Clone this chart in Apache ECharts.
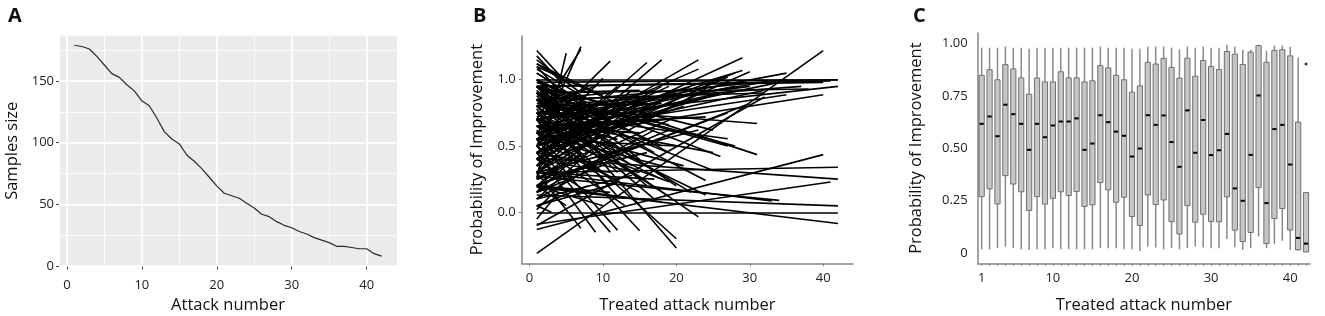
<!DOCTYPE html>
<html>
<head>
<meta charset="utf-8">
<title>Attack number panels</title>
<script src="https://cdn.jsdelivr.net/npm/echarts@6.0.0/dist/echarts.min.js"></script>
<style>
  html, body { margin: 0; padding: 0; background: #fff; }
  #chart { width: 1325px; height: 316px; }
</style>
</head>
<body>
<div id="chart"></div>
<script>
// ---- panel A: samples left at each attack ----
const attackNumbers = [1, 2, 3, 4, 5, 6, 7, 8, 9, 10, 11, 12, 13, 14, 15, 16, 17, 18, 19, 20, 21,
  22, 23, 24, 25, 26, 27, 28, 29, 30, 31, 32, 33, 34, 35, 36, 37, 38, 39, 40, 41, 42]
const sampleSize = [179, 178, 176, 170, 163, 156, 153, 147, 142, 134, 130, 120, 109, 103, 99, 90, 85,
  79, 72, 65, 59, 57, 55, 51, 47, 42, 40, 36, 33, 31, 28, 26, 23, 21, 19, 16, 16, 15, 14, 14, 10, 8]

// ---- panel B: one straight line per patient, attack 1 -> last treated attack ----
const lineStartY = [
  0.62, 0.35,
  1.05, 0.78, 0.15, 0.50, 0.92, 0.05,
  1.18, 0.30, 0.70, -0.05, 0.88, 0.45, 1.10,
  1.22, 0.26, 0.60, 0.95, 0.20, 0.80, 0.40,
  1.12, 0.55, 0.02,
  0.50, 0.70, 0.30, 1.15, 0.85, 0.15,
  0.95, 0.40, 0.72, 0.05, 1.08,
  0.45, 0.90, 0.25, 0.65, 1.00, 0.10, 0.80, 0.35,
  0.50, 0.70, 1.12, 0.20,
  0.60, 0.50, 0.95, 0.30, 0.75, 0.10, 1.05, 0.40, 0.85, 0.20,
  0.55, 0.90, 0.30, 0.70, 1.10, 0.15, 0.45, 0.80, 0.60, 0.05, 1.00,
  0.60, 0.35, 0.95, 0.20, 0.75, 0.50,
  0.85, 0.40, 0.10, 0.65,
  0.70, 0.80, 0.30, 1.00, 0.55, 0.20, 0.90, 0.45, 0.65,
  0.40, 0.90, 0.60, 0.25, 0.75,
  0.50, 0.95, 0.30, 0.70, 0.15, 0.85,
  0.35, 0.60, 0.80, 0.20, 0.95, 0.45, 0.70,
  0.85, 1.00, 0.60, 0.30, 0.75, 0.50, 0.20,
  0.95, 0.75, 0.40, 0.55, 0.25, 0.90,
  0.65, 0.45,
  0.55, 0.85,
  0.45, 0.55, 0.80, 0.30,
  0.90, 0.65, 0.25, 0.75,
  0.85, 0.50, 0.95, 0.35, 0.70,
  0.60, 0.95,
  0.75, 0.40, 0.90, 0.20,
  0.90, 0.50, 0.65,
  0.45, 0.60,
  0.35, 0.75, 0.20,
  0.80, 0.98,
  -0.10, 0.55, 0.85,
  0.30, 0.70,
  0.27, 0.60,
  0.70, 0.60, 0.82,
  0.80,
  0.90,
  -0.31, 0.55, -0.13, 0.95,
  0.95, -0.09,
  1.00, 0.98, 0.30, 0.41, 0.13, 0.00, 0.19, 0.70
]
const lineEndX = [
  2, 2,
  3, 3, 3, 3, 3, 3,
  4, 4, 4, 4, 4, 4, 4,
  5, 5, 5, 5, 5, 5, 5,
  6, 6, 6,
  7, 7, 7, 7, 7, 7,
  8, 8, 8, 8, 8,
  9, 9, 9, 9, 9, 9, 9, 9,
  10, 10, 10, 10,
  11, 11, 11, 11, 11, 11, 11, 11, 11, 11,
  12, 12, 12, 12, 12, 12, 12, 12, 12, 12, 12,
  13, 13, 13, 13, 13, 13,
  14, 14, 14, 14,
  15, 15, 15, 15, 15, 15, 15, 15, 15,
  16, 16, 16, 16, 16,
  17, 17, 17, 17, 17, 17,
  18, 18, 18, 18, 18, 18, 18,
  19, 19, 19, 19, 19, 19, 19,
  20, 20, 20, 20, 20, 20,
  21, 21,
  22, 22,
  23, 23, 23, 23,
  24, 24, 24, 24,
  25, 25, 25, 25, 25,
  26, 26,
  27, 27, 27, 27,
  28, 28, 28,
  29, 29,
  30, 30, 30,
  31, 31,
  32, 32, 32,
  33, 33,
  34, 34,
  35, 35, 35,
  37,
  38,
  40, 40, 40, 40,
  41, 41,
  42, 42, 42, 42, 42, 42, 42, 42
]
const lineEndY = [
  0.55, 0.42,
  0.98, 0.60, 0.30, 0.62, 0.80, 0.00,
  1.00, 0.55, 0.45, 0.15, 0.70, 0.25, 0.92,
  0.98, 1.20, 0.35, 0.75, 0.05, 0.90, 0.60,
  0.95, 0.80, 0.30,
  1.25, 1.23, -0.12, 0.90, 0.50, 0.45,
  0.65, 0.15, 0.95, 0.20, 0.85,
  -0.15, 0.60, 0.55, 0.30, 0.80, 0.35, 0.95, 0.70,
  1.01, 0.40, 0.88, 0.05,
  1.14, -0.15, 0.50, 0.80, 0.20, 0.60, 0.70, 0.30, 0.90, 0.15,
  -0.135, 0.30, 0.75, 0.55, 0.82, 0.40, 0.95, 0.12, 0.68, 0.22, 0.45,
  0.20, 0.88, 0.62, 0.48, 0.75, 0.05,
  0.35, 0.92, 0.28, 0.60,
  -0.14, 0.72, 0.50, 0.40, 0.15, 0.85, 0.92, 0.30, 0.60,
  1.13, 0.20, 0.78, 0.45, 0.88,
  0.72, 0.45, 0.25, 0.92, 0.62, 0.10,
  1.15, 0.35, 0.82, 0.08, 0.50, 0.95, 0.25,
  0.66, 0.45, 0.23, 0.87, 0.12, 0.95, 0.62,
  -0.27, -0.20, 0.90, 0.50, 0.72, 0.20,
  0.35, 0.80,
  0.95, 0.15,
  1.15, 1.08, -0.035, 0.62,
  0.24, 0.72, 0.93, 0.13,
  0.316, 0.88, 0.62, 0.98, 0.45,
  0.90, 0.42,
  0.555, 1.02, 0.50, 0.75,
  0.50, 1.05, 0.95,
  1.166, 1.07,
  1.06, 0.95, 0.82,
  0.67, 0.435,
  0.87, 0.92, 0.90,
  0.085, 0.99,
  0.09, 0.98,
  1.05, 0.887, 1.00,
  0.95,
  0.93,
  1.22, 0.887, 0.435, 0.98,
  0.99, 0.228,
  1.00, 1.00, 0.34, 0.25, 0.048, 0.00, -0.085, 0.95
]

// ---- panel C: box plot per treated attack ----
const boxMin = [0.019, 0.019, 0.024, 0.032, 0.024, 0.019, 0.016, 0.019, 0.019, 0.024, 0.019, 0.019, 0.019, 0.019,
  0.019, 0.024, 0.024, 0.024, 0.019, 0.019, 0.011, 0.032, 0.027, 0.019, 0.024, 0.019, 0.024, 0.032,
  0.027, 0.024, 0.024, 0.068, 0.028, 0.016, 0.024, 0.08, 0.024, 0.045, 0.059, 0.016, 0.011, 0.006]
const boxQ1 = [0.270, 0.307, 0.235, 0.370, 0.330, 0.293, 0.204, 0.270, 0.234, 0.262, 0.293, 0.275, 0.294, 0.223,
  0.231, 0.337, 0.302, 0.243, 0.267, 0.175, 0.132, 0.278, 0.232, 0.254, 0.151, 0.092, 0.227, 0.148,
  0.186, 0.151, 0.150, 0.269, 0.110, 0.056, 0.099, 0.313, 0.046, 0.165, 0.213, 0.111, 0.017, 0.006]
const boxMedian = [0.617, 0.652, 0.558, 0.708, 0.663, 0.617, 0.493, 0.617, 0.553, 0.609, 0.628, 0.628, 0.643, 0.493,
  0.523, 0.658, 0.625, 0.580, 0.560, 0.461, 0.499, 0.658, 0.612, 0.657, 0.530, 0.412, 0.681, 0.479,
  0.635, 0.468, 0.491, 0.569, 0.309, 0.250, 0.469, 0.752, 0.239, 0.592, 0.612, 0.423, 0.073, 0.046]
const boxQ3 = [0.848, 0.875, 0.827, 0.899, 0.879, 0.836, 0.758, 0.835, 0.817, 0.817, 0.865, 0.836, 0.836, 0.817,
  0.822, 0.894, 0.884, 0.848, 0.827, 0.768, 0.798, 0.910, 0.902, 0.929, 0.886, 0.835, 0.930, 0.844,
  0.919, 0.890, 0.876, 0.962, 0.949, 0.900, 0.959, 0.990, 0.910, 0.967, 0.970, 0.941, 0.625, 0.289]
const boxMax = [0.98, 0.98, 0.98, 0.986, 0.98, 0.98, 0.975, 0.98, 0.98, 0.98, 0.98, 0.98, 0.98, 0.98,
  0.98, 0.986, 0.98, 0.98, 0.98, 0.975, 0.975, 0.986, 0.986, 0.986, 0.98, 0.972, 0.986, 0.98,
  0.986, 0.98, 0.98, 0.994, 0.986, 0.97, 0.97, 0.994, 0.965, 0.99, 0.99, 0.985, 0.933, 0.291]
const outlierAttack = [42]
const outlierValue = [0.902]

const cLabelAttacks = ['1', '10', '20', '30', '40']

// ---- shared styles ----
const FONT = "'Open Sans', sans-serif"
const tickText = { color: '#222', fontSize: 13, fontFamily: FONT }
const titleText = { color: '#111', fontSize: 16.5, fontFamily: FONT }
const axisGrey = { color: '#858585', width: 1.5 }

const chart = echarts.init(document.getElementById('chart'), null, { renderer: 'canvas' })

// 把数据拼成 echarts 需要的格式
const lineData = sampleSize.map((v, i) => [attackNumbers[i], v])
const patientLines = lineStartY.map((sy, i) => ({ coords: [[1, sy], [lineEndX[i], lineEndY[i]]] }))
const boxData = boxMedian.map((m, i) => [i, boxMin[i], boxQ1[i], m, boxQ3[i], boxMax[i]])
const outlierData = outlierAttack.map((a, i) => [String(a), outlierValue[i]])

const option = {
  animation: false,
  title: [
    { text: 'A', left: 3, top: 1, textStyle: { fontSize: 20, fontWeight: 'bold', color: '#111', fontFamily: FONT } },
    { text: 'B', left: 468, top: 1, textStyle: { fontSize: 20, fontWeight: 'bold', color: '#111', fontFamily: FONT } },
    { text: 'C', left: 908, top: 1, textStyle: { fontSize: 20, fontWeight: 'bold', color: '#111', fontFamily: FONT } }
  ],
  grid: [
    { left: 59, top: 34.8, width: 338, height: 231.9, show: true, backgroundColor: '#EBEBEB', borderWidth: 0, outerBoundsMode: 'none' },
    { left: 521.7, top: 36, width: 331.3, height: 227.3, outerBoundsMode: 'none' },
    { left: 977.7, top: 33, width: 332.3, height: 230.3, outerBoundsMode: 'none' }
  ],
  xAxis: [
    // A minor grid
    {
      gridIndex: 0, type: 'value', position: 'bottom', min: -1.05, max: 44.05, minInterval: 5, maxInterval: 5,
      axisLine: { show: false }, axisTick: { show: false }, axisLabel: { show: false },
      splitLine: { show: true, lineStyle: { color: '#fff', width: 0.8 } }
    },
    // A major
    {
      gridIndex: 0, type: 'value', position: 'bottom', min: -1.05, max: 44.05, minInterval: 10, maxInterval: 10,
      name: 'Attack number', nameLocation: 'middle', nameGap: 27, nameTextStyle: titleText,
      axisLine: { show: false, onZero: false },
      axisTick: { show: true, length: 3, lineStyle: { color: '#444' }, customValues: [0, 10, 20, 30, 40] },
      axisLabel: Object.assign({ margin: 12, customValues: [0, 10, 20, 30, 40] }, tickText),
      splitLine: { show: true, lineStyle: { color: '#fff', width: 1.5 } }
    },
    // B
    {
      gridIndex: 1, type: 'value', position: 'bottom', min: -1.05, max: 44.05, minInterval: 10, maxInterval: 10,
      name: 'Treated attack number', nameLocation: 'middle', nameGap: 33, nameTextStyle: titleText,
      axisLine: { show: true, onZero: false, lineStyle: axisGrey },
      axisTick: { show: true, length: 3, lineStyle: { color: '#858585' }, customValues: [0, 10, 20, 30, 40] },
      axisLabel: Object.assign({ margin: 8, customValues: [0, 10, 20, 30, 40] }, tickText),
      splitLine: { show: false }
    },
    // C
    {
      gridIndex: 2, type: 'category', position: 'bottom', data: attackNumbers.map(String), boundaryGap: true,
      name: 'Treated attack number', nameLocation: 'middle', nameGap: 33, nameTextStyle: titleText,
      axisLine: { show: true, onZero: false, lineStyle: axisGrey },
      axisTick: { show: true, length: 2.5, interval: 0, alignWithLabel: true, lineStyle: { color: '#858585' } },
      axisLabel: Object.assign({ margin: 8, interval: (idx, val) => cLabelAttacks.includes(val) }, tickText),
      splitLine: { show: false }
    }
  ],
  yAxis: [
    // A minor grid
    {
      gridIndex: 0, type: 'value', position: 'left', min: -0.55, max: 187.5, minInterval: 25, maxInterval: 25,
      axisLine: { show: false }, axisTick: { show: false }, axisLabel: { show: false },
      splitLine: { show: true, lineStyle: { color: '#fff', width: 0.8 } }
    },
    // A major
    {
      gridIndex: 0, type: 'value', position: 'left', min: -0.55, max: 187.5, minInterval: 50, maxInterval: 50,
      name: 'Samples size', nameLocation: 'middle', nameGap: 38, nameTextStyle: titleText,
      axisLine: { show: false, onZero: false },
      axisTick: { show: true, length: 3, lineStyle: { color: '#444' }, customValues: [0, 50, 100, 150] },
      axisLabel: Object.assign({ margin: 5, customValues: [0, 50, 100, 150] }, tickText),
      splitLine: { show: true, lineStyle: { color: '#fff', width: 1.5 } }
    },
    // B
    {
      gridIndex: 1, type: 'value', position: 'left', min: -0.385, max: 1.33, minInterval: 0.5, maxInterval: 0.5,
      name: 'Probability of Improvement', nameLocation: 'middle', nameGap: 36, nameTextStyle: titleText,
      axisLine: { show: true, onZero: false, lineStyle: axisGrey },
      axisTick: { show: true, length: 3, lineStyle: { color: '#858585' }, customValues: [0, 0.5, 1] },
      axisLabel: Object.assign({ margin: 6, customValues: [0, 0.5, 1], formatter: (v) => v.toFixed(1) }, tickText),
      splitLine: { show: false }
    },
    // C
    {
      gridIndex: 2, type: 'value', position: 'left', min: -0.048, max: 1.05, minInterval: 0.25, maxInterval: 0.25,
      name: 'Probability of Improvement', nameLocation: 'middle', nameGap: 53, nameTextStyle: titleText,
      axisLine: { show: true, onZero: false, lineStyle: axisGrey },
      axisTick: { show: false, customValues: [0, 0.25, 0.5, 0.75, 1] },
      axisLabel: Object.assign({
        margin: 10, customValues: [0, 0.25, 0.5, 0.75, 1],
        formatter: (v) => (v === 0 ? '0' : v.toFixed(2))
      }, tickText),
      splitLine: { show: false }
    }
  ],
  series: [
    {
      type: 'line', xAxisIndex: 1, yAxisIndex: 1, data: lineData,
      showSymbol: false, symbol: 'none',
      lineStyle: { color: '#2b2b2b', width: 1.2 }
    },
    {
      type: 'lines', coordinateSystem: 'cartesian2d', xAxisIndex: 2, yAxisIndex: 2,
      data: patientLines, silent: true,
      lineStyle: { color: '#000', width: 1.6, opacity: 1 }
    },
    {
      type: 'custom', xAxisIndex: 3, yAxisIndex: 3, data: boxData,
      encode: { x: 0, y: [1, 2, 3, 4, 5] },
      renderItem: (params, api) => {
        const x = api.value(0)
        const lo = api.coord([x, api.value(1)])
        const q1 = api.coord([x, api.value(2)])
        const med = api.coord([x, api.value(3)])
        const q3 = api.coord([x, api.value(4)])
        const hi = api.coord([x, api.value(5)])
        const w = api.size([1, 0])[0] * 0.66
        const whisker = { stroke: '#8a8a8a', lineWidth: 1.5 }
        return {
          type: 'group',
          children: [
            { type: 'line', shape: { x1: lo[0], y1: lo[1], x2: q1[0], y2: q1[1] }, style: whisker },
            { type: 'line', shape: { x1: q3[0], y1: q3[1], x2: hi[0], y2: hi[1] }, style: whisker },
            {
              type: 'rect',
              shape: { x: q3[0] - w / 2, y: q3[1], width: w, height: q1[1] - q3[1] },
              style: { fill: '#c6c6c6', stroke: '#707070', lineWidth: 1 }
            },
            {
              type: 'line',
              shape: { x1: med[0] - w / 2 + 0.5, y1: med[1], x2: med[0] + w / 2 - 0.5, y2: med[1] },
              style: { stroke: '#000', lineWidth: 2 }
            }
          ]
        }
      }
    },
    {
      type: 'scatter', xAxisIndex: 3, yAxisIndex: 3, data: outlierData,
      symbol: 'circle', symbolSize: 3, itemStyle: { color: '#000' }
    }
  ]
}

chart.setOption(option)
</script>
</body>
</html>
